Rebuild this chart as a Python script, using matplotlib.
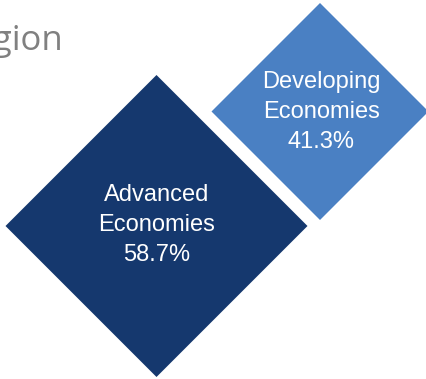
import matplotlib
matplotlib.use("Agg")
import matplotlib.pyplot as plt
from matplotlib.patches import Polygon

# share of world total by economy group
groups = ["Advanced\nEconomies", "Developing\nEconomies"]
shares = [58.7, 41.3]

# diamond layout in pixel units: centre x, centre y, half diagonal
centres = [(156.5, 226.0), (320.0, 111.5)]
half_diag = [151.0, 108.5]
label_pos = [(157.0, 225.0), (321.5, 112.0)]
colours = ["#15386e", "#4a80c3"]

fig = plt.figure(figsize=(4.27, 3.79), dpi=100)
ax = fig.add_axes([0, 0, 1, 1])
ax.set_xlim(0, 427)
ax.set_ylim(379, 0)
ax.axis("off")

for name, share, (cx, cy), h, (lx, ly), col in zip(groups, shares, centres,
                                                   half_diag, label_pos, colours):
    pts = [(cx, cy - h), (cx + h, cy), (cx, cy + h), (cx - h, cy)]
    ax.add_patch(Polygon(pts, closed=True, facecolor=col, edgecolor="none"))
    ax.text(lx, ly, f"{name}\n{share:.1f}%", ha="center", va="center",
            color="white", fontsize=17, family="Liberation Sans",
            linespacing=1.45)

# heading runs off the left edge
ax.text(63, 50, "Region", ha="right", va="baseline", color="#808080",
        fontsize=25, family="Open Sans")

fig.savefig("out.png", dpi=100)
